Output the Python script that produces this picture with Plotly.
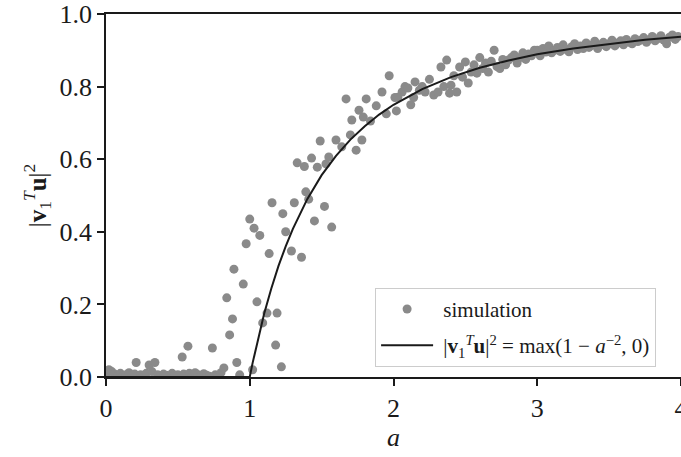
import plotly.graph_objects as go

# simulation points
sim_x = [0.00, 0.02, 0.04, 0.06, 0.08, 0.10, 0.12, 0.14, 0.16, 0.18, 0.20, 0.21, 0.24, 0.26, 0.28, 0.30,
         0.32, 0.34, 0.36, 0.38, 0.40, 0.42, 0.44, 0.46, 0.48, 0.50, 0.53, 0.54, 0.57, 0.58, 0.60, 0.62,
         0.64, 0.66, 0.68, 0.70, 0.72, 0.74, 0.76, 0.78, 0.80,
         0.82, 0.84, 0.86, 0.88, 0.89, 0.91, 0.93, 0.955, 0.975, 1.00,
         1.02, 1.03, 1.05, 1.07, 1.09, 1.12, 1.135, 1.155, 1.18, 1.19, 1.22, 1.23, 1.25, 1.29, 1.31,
         1.33, 1.36, 1.38, 1.39, 1.41, 1.43, 1.45, 1.47, 1.49, 1.52, 1.53, 1.55, 1.57, 1.60, 1.64,
         1.67, 1.70, 1.71, 1.74, 1.76, 1.78, 1.79, 1.81, 1.84, 1.88, 1.92, 1.95, 1.97,
         2.01, 2.02, 2.03, 2.06, 2.08, 2.10, 2.12, 2.14, 2.15, 2.18, 2.20, 2.22, 2.25, 2.28, 2.31,
         2.33, 2.35, 2.37, 2.39, 2.40, 2.42, 2.44, 2.46, 2.48, 2.50,
         2.52, 2.54, 2.56, 2.58, 2.60, 2.62, 2.64, 2.66, 2.68, 2.70, 2.72, 2.74, 2.76, 2.78, 2.80,
         2.82, 2.84, 2.86, 2.88, 2.90, 2.92, 2.94, 2.96, 2.98,
         3.00, 3.02, 3.04, 3.06, 3.08, 3.10, 3.12, 3.14, 3.16, 3.18, 3.20, 3.22, 3.24, 3.26, 3.28,
         3.30, 3.32, 3.34, 3.36, 3.38, 3.40, 3.42, 3.44, 3.46, 3.48, 3.50, 3.52, 3.54, 3.56, 3.58,
         3.60, 3.62, 3.64, 3.66, 3.68, 3.70, 3.72, 3.74, 3.76, 3.78, 3.80, 3.82, 3.84, 3.86, 3.88,
         3.90, 3.92, 3.94, 3.96, 3.98]
sim_y = [0.005, 0.020, 0.015, 0.008, 0.004, 0.010, 0.003, 0.006, 0.012, 0.005, 0.008, 0.040, 0.006, 0.004, 0.010, 0.033,
         0.015, 0.040, 0.006, 0.003, 0.008, 0.005, 0.002, 0.010, 0.004, 0.006, 0.055, 0.008, 0.085, 0.010, 0.004, 0.012,
         0.006, 0.003, 0.009, 0.005, 0.002, 0.080, 0.006, 0.004, 0.012,
         0.025, 0.218, 0.116, 0.160, 0.297, 0.040, 0.006, 0.256, 0.367, 0.435,
         0.020, 0.410, 0.207, 0.390, 0.149, 0.176, 0.340, 0.480, 0.088, 0.176, 0.028, 0.450, 0.400, 0.347, 0.480,
         0.590, 0.330, 0.580, 0.510, 0.490, 0.603, 0.430, 0.578, 0.650, 0.470, 0.587, 0.606, 0.413, 0.653, 0.634,
         0.766, 0.667, 0.708, 0.625, 0.735, 0.653, 0.716, 0.766, 0.705, 0.747, 0.785, 0.725, 0.830,
         0.770, 0.733, 0.771, 0.785, 0.800, 0.796, 0.750, 0.770, 0.813, 0.790, 0.800, 0.785, 0.820, 0.777, 0.785,
         0.854, 0.800, 0.873, 0.782, 0.804, 0.830, 0.785, 0.854, 0.826, 0.868,
         0.810, 0.840, 0.860, 0.837, 0.880, 0.850, 0.865, 0.840, 0.870, 0.900, 0.855, 0.850, 0.875, 0.860, 0.873,
         0.880, 0.887, 0.865, 0.880, 0.893, 0.875, 0.890, 0.885, 0.900,
         0.900, 0.885, 0.905, 0.895, 0.912, 0.893, 0.900, 0.908, 0.897, 0.915, 0.903, 0.896, 0.910, 0.918, 0.902,
         0.912, 0.905, 0.920, 0.908, 0.914, 0.925, 0.905, 0.915, 0.922, 0.910, 0.918, 0.928, 0.912, 0.920, 0.926,
         0.915, 0.930, 0.922, 0.918, 0.932, 0.924, 0.928, 0.935, 0.922, 0.930, 0.938, 0.926, 0.932, 0.940, 0.928,
         0.918, 0.936, 0.942, 0.930, 0.938]

# theory curve max(1 - a^-2, 0), values as read
theory_x = [0.0, 1.0, 1.02, 1.05, 1.1, 1.15, 1.2, 1.25, 1.3, 1.4, 1.5, 1.6, 1.7, 1.8, 1.9, 2.0,
            2.2, 2.4, 2.6, 2.8, 3.0, 3.25, 3.5, 3.75, 4.0]
theory_y = [0.0, 0.0, 0.039, 0.093, 0.174, 0.244, 0.306, 0.360, 0.408, 0.490, 0.556, 0.609, 0.654, 0.691, 0.723, 0.750,
            0.793, 0.826, 0.852, 0.872, 0.889, 0.905, 0.918, 0.929, 0.9375]

x_ticks = [0, 1, 2, 3, 4]
y_ticks = [0.0, 0.2, 0.4, 0.6, 0.8, 1.0]

FONT = "Liberation Serif"

fig = go.Figure()
fig.add_trace(go.Scatter(
    x=sim_x, y=sim_y, mode="markers", name="\u00a0simulation",
    marker=dict(color="#8a8a8a", size=9, line=dict(width=0)),
    legendgroup="a",
))
fig.add_trace(go.Scatter(
    x=theory_x, y=theory_y, mode="lines",
    name="\u00a0|<b>v</b><sub>1</sub><sup><i>T</i></sup><b>u</b>|<sup>2</sup> = max(1 − <i>a</i><sup>−2</sup>, 0)",
    line=dict(color="#1a1a1a", width=2),
    legendgroup="b",
))

fig.update_layout(
    width=681, height=457,
    margin=dict(l=106, r=0, t=14, b=80),
    plot_bgcolor="white", paper_bgcolor="white",
    font=dict(family=FONT, size=26, color="#1a1a1a"),
    showlegend=True,
    legend=dict(
        x=0.468, y=0.028, xanchor="left", yanchor="bottom",
        bordercolor="#cccccc", borderwidth=1, bgcolor="white",
        font=dict(family=FONT, size=21, color="#1a1a1a"),
        tracegroupgap=6, itemwidth=52,
    ),
    xaxis=dict(
        range=[0, 4.0], tickvals=x_ticks, ticktext=[str(t) for t in x_ticks],
        ticks="outside", ticklen=7, tickwidth=1.5, tickcolor="#1a1a1a",
        showline=True, linecolor="#1a1a1a", linewidth=1.5, mirror=True,
        showgrid=False, zeroline=False, ticklabeloverflow="allow", automargin=False,
        title=dict(text="<i>a</i>", font=dict(family=FONT, size=26), standoff=4),
        tickfont=dict(family=FONT, size=26),
    ),
    yaxis=dict(
        range=[0, 1.0], tickvals=y_ticks, tickformat=".1f",
        ticks="outside", ticklen=7, tickwidth=1.5, tickcolor="#1a1a1a",
        showline=True, linecolor="#1a1a1a", linewidth=1.5, mirror=False,
        showgrid=False, zeroline=False, automargin=False,
        title=dict(text="|<b>v</b><sub>1</sub><sup><i>T</i></sup><b>u</b>|<sup>2</sup>",
                   font=dict(family=FONT, size=25), standoff=6),
        tickfont=dict(family=FONT, size=26),
    ),
)

fig.write_html("out.html")
